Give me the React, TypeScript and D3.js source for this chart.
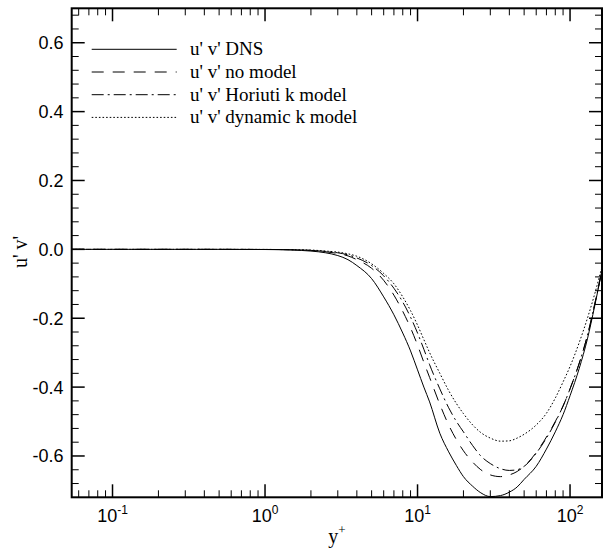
import React, { useEffect, useRef } from 'react'
import * as d3 from 'd3'

// y+ sample positions (wall units)
const yPlus = [0.054, 0.1, 0.3, 0.5, 1, 1.5, 2, 2.5, 3, 3.5, 4, 5, 6, 7, 8, 9, 10, 11, 12, 14, 16, 18, 20, 23, 26, 30, 35, 40, 45, 50, 60, 70, 80, 90, 100, 115, 130, 145, 162]

// u'v' values
const dns = [0, 0, 0, 0, -0.0005, -0.002, -0.005, -0.01, -0.018, -0.03, -0.047, -0.085, -0.138, -0.19, -0.243, -0.295, -0.35, -0.4, -0.443, -0.534, -0.588, -0.628, -0.66, -0.688, -0.707, -0.718, -0.715, -0.705, -0.69, -0.668, -0.63, -0.58, -0.53, -0.48, -0.425, -0.345, -0.26, -0.165, -0.06]
const noModel = [0, 0, 0, 0, -0.0003, -0.001, -0.003, -0.007, -0.012, -0.019, -0.03, -0.055, -0.09, -0.133, -0.18, -0.228, -0.278, -0.328, -0.372, -0.45, -0.51, -0.553, -0.585, -0.618, -0.64, -0.655, -0.66, -0.655, -0.645, -0.63, -0.59, -0.545, -0.5, -0.455, -0.405, -0.33, -0.25, -0.16, -0.06]
const horiuti = [0, 0, 0, 0, -0.0003, -0.001, -0.003, -0.006, -0.01, -0.016, -0.025, -0.047, -0.077, -0.113, -0.153, -0.197, -0.243, -0.29, -0.335, -0.405, -0.46, -0.5, -0.53, -0.57, -0.6, -0.622, -0.637, -0.642, -0.64, -0.63, -0.592, -0.548, -0.502, -0.455, -0.405, -0.33, -0.25, -0.16, -0.06]
const dynamicK = [0, 0, 0, 0, -0.0002, -0.001, -0.002, -0.005, -0.008, -0.013, -0.02, -0.042, -0.07, -0.1, -0.138, -0.178, -0.22, -0.262, -0.3, -0.36, -0.41, -0.448, -0.477, -0.51, -0.532, -0.548, -0.557, -0.556, -0.548, -0.537, -0.51, -0.476, -0.432, -0.385, -0.34, -0.27, -0.2, -0.13, -0.05]

const seriesNames = ["u' v' DNS", "u' v' no model", "u' v' Horiuti k model", "u' v' dynamic k model"]
const seriesValues = [dns, noModel, horiuti, dynamicK]
const dashes = ['none', '12,9', '12,4,2,4', '1.6,2']

const xMajor = [0.1, 1, 10, 100]
const xExponents = ['-1', '0', '1', '2']
const yMajor = [-0.6, -0.4, -0.2, 0.0, 0.2, 0.4, 0.6]

const W = 603
const H = 550
const left = 71.7
const right = 602
const top = 8.3
const bottom = 497.3

const SANS = 'Liberation Sans, Arial, Helvetica, sans-serif'
const SERIF = 'Liberation Serif, Times New Roman, Times, serif'

export default function App() {
  const ref = useRef<SVGSVGElement>(null)

  useEffect(() => {
    const svg = d3.select(ref.current)
    svg.selectAll('*').remove()

    const x = d3.scaleLog().domain([0.054, 162]).range([left, right])
    const y = d3.scaleLinear().domain([-0.72, 0.7]).range([bottom, top])

    svg.append('defs').append('clipPath').attr('id', 'plot')
      .append('rect').attr('x', left).attr('y', top).attr('width', right - left).attr('height', bottom - top)

    // curves
    const line = d3.line<number>()
      .x((d, i) => x(yPlus[i]))
      .y(d => y(d))
      .curve(d3.curveMonotoneX)

    const g = svg.append('g').attr('clip-path', 'url(#plot)')
    seriesValues.forEach((vals, k) => {
      g.append('path')
        .attr('d', line(vals))
        .attr('fill', 'none')
        .attr('stroke', '#000')
        .attr('stroke-width', 1)
        .attr('stroke-dasharray', dashes[k])
    })

    // minor ticks
    const xMinor: number[] = []
    for (let e = -2; e <= 2; e++) {
      for (let m = 2; m <= 9; m++) {
        const v = m * Math.pow(10, e)
        if (v > 0.054 && v < 162) xMinor.push(v)
      }
    }
    const yMinor = d3.range(-0.68, 0.7, 0.04).filter(v => !yMajor.some(m => Math.abs(m - v) < 1e-6))

    const ticks = svg.append('g').attr('stroke', '#000')
    xMinor.forEach(v => {
      ticks.append('line').attr('x1', x(v)).attr('x2', x(v)).attr('y1', bottom).attr('y2', bottom - 7).attr('stroke-width', 1)
      ticks.append('line').attr('x1', x(v)).attr('x2', x(v)).attr('y1', top).attr('y2', top + 7).attr('stroke-width', 1)
    })
    xMajor.forEach(v => {
      ticks.append('line').attr('x1', x(v)).attr('x2', x(v)).attr('y1', bottom).attr('y2', bottom - 13).attr('stroke-width', 1.5)
      ticks.append('line').attr('x1', x(v)).attr('x2', x(v)).attr('y1', top).attr('y2', top + 13).attr('stroke-width', 1.5)
    })
    yMinor.forEach(v => {
      ticks.append('line').attr('x1', left).attr('x2', left + 7).attr('y1', y(v)).attr('y2', y(v)).attr('stroke-width', 1)
      ticks.append('line').attr('x1', right).attr('x2', right - 7).attr('y1', y(v)).attr('y2', y(v)).attr('stroke-width', 1)
    })
    yMajor.forEach(v => {
      ticks.append('line').attr('x1', left).attr('x2', left + 13).attr('y1', y(v)).attr('y2', y(v)).attr('stroke-width', 1.5)
      ticks.append('line').attr('x1', right).attr('x2', right - 13).attr('y1', y(v)).attr('y2', y(v)).attr('stroke-width', 1.5)
    })

    // frame
    svg.append('rect')
      .attr('x', left).attr('y', top).attr('width', right - left).attr('height', bottom - top)
      .attr('fill', 'none').attr('stroke', '#000').attr('stroke-width', 2)

    // y tick labels
    svg.append('g')
      .selectAll('text')
      .data(yMajor)
      .join('text')
      .attr('x', 63.5)
      .attr('y', d => y(d))
      .attr('dy', '0.36em')
      .attr('text-anchor', 'end')
      .attr('font-family', SANS)
      .attr('font-size', 18)
      .text(d => d3.format('.1f')(d).replace('−', '-'))

    // x tick labels
    xMajor.forEach((v, i) => {
      const t = svg.append('text')
        .attr('x', x(v))
        .attr('y', 521.5)
        .attr('text-anchor', 'middle')
        .attr('font-family', SANS)
        .attr('font-size', 18)
      t.append('tspan').text('10')
      t.append('tspan').attr('dy', -8).attr('font-size', 12).text(xExponents[i])
    })

    // axis titles
    const xt = svg.append('text')
      .attr('x', 337).attr('y', 543)
      .attr('text-anchor', 'middle')
      .attr('font-family', SERIF)
      .attr('font-size', 20)
    xt.append('tspan').text('y')
    xt.append('tspan').attr('dy', -9).attr('font-size', 13).text('+')

    svg.append('text')
      .attr('transform', 'translate(27,252) rotate(-90)')
      .attr('text-anchor', 'middle')
      .attr('font-family', SERIF)
      .attr('font-size', 20)
      .text("u' v'")

    // legend
    const lg = svg.append('g')
    seriesNames.forEach((name, k) => {
      const ly = 49.3 + k * 22.7
      lg.append('line')
        .attr('x1', 91.7).attr('x2', 176.7).attr('y1', ly).attr('y2', ly)
        .attr('stroke', '#000').attr('stroke-width', 1)
        .attr('stroke-dasharray', dashes[k])
      lg.append('text')
        .attr('x', 190).attr('y', ly).attr('dy', '0.32em')
        .attr('font-family', SERIF)
        .attr('font-size', 19)
        .text(name)
    })
  }, [])

  return (
    <div>
      <style>{`body{margin:0}`}</style>
      <svg ref={ref} width={W} height={H} style={{ display: 'block', background: '#fff' }} />
    </div>
  )
}
